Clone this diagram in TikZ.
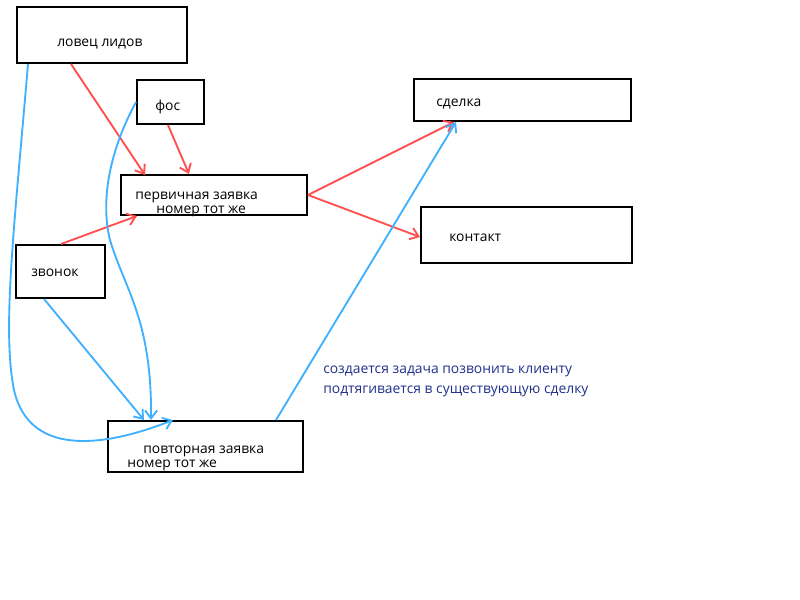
\documentclass[tikz,border=0pt]{standalone}
\usepackage{fontspec}
\setmainfont{Open Sans}
\usepackage{tikz}
\usetikzlibrary{arrows.meta,calc}
\definecolor{leadred}{RGB}{255,80,80}
\definecolor{leadblue}{RGB}{64,176,255}
\definecolor{notenavy}{RGB}{32,48,140}
\tikzset{
  stagebox/.style={draw, line width=1.5pt, inner sep=0pt},
  boxtext/.style={anchor=west, inner sep=0pt, yshift=-2.2pt, font=\fontsize{10.4}{12}\selectfont},
  notetext/.style={boxtext, text=notenavy},
  newflow/.style={-{Straight Barb[length=6pt, width=9pt]}, leadred, line width=1.4pt},
  repeatflow/.style={-{Straight Barb[length=6pt, width=9pt]}, leadblue, line width=1.4pt},
}

\begin{document}
\begin{tikzpicture}[x=0.75pt, y=-0.75pt]
    \useasboundingbox (0,0) rectangle (800,600);
    % stage boxes
    \node[stagebox, minimum width=127.5pt, minimum height=42pt] (lovec) at (102,35) {};
    \node[stagebox, minimum width=50.25pt, minimum height=33pt] (fos) at (170.5,102) {};
    \node[stagebox, minimum width=139.5pt, minimum height=30pt] (perv) at (214,195) {};
    \node[stagebox, minimum width=66.75pt, minimum height=39.75pt] (zvonok) at (60.5,271.5) {};
    \node[stagebox, minimum width=146.25pt, minimum height=38.25pt] (povt) at (205.5,446.5) {};
    \node[stagebox, minimum width=162.75pt, minimum height=31.5pt] (sdelka) at (522.5,100) {};
    \node[stagebox, minimum width=158.25pt, minimum height=42pt] (kontakt) at (526.5,235) {};
    % box texts
    \node[boxtext] (lovecT) at (57,41) {ловец лидов};
    \node[boxtext] (fosT) at (155,104) {фос};
    \node[boxtext] (pervT) at (135,194) {первичная заявка};
    \node[boxtext] (pervN) at (156,208) {номер тот же};
    \node[boxtext] (zvonokT) at (31,270) {звонок};
    \node[boxtext] (povtT) at (143,448) {повторная заявка};
    \node[boxtext] (povtN) at (127,462) {номер тот же};
    \node[boxtext] (sdelkaT) at (436,101) {сделка};
    \node[boxtext] (kontaktT) at (449,235) {контакт};
    % note
    \node[notetext] (note1) at (323,368) {создается задача позвонить клиенту};
    \node[notetext] (note2) at (323,388) {подтягивается в существующую сделку};
    % new lead (red)
    \draw[newflow] ($(lovec.south west)+(55,0)$) -- ($(perv.north west)+(25,1)$);
    \draw[newflow] ($(fos.south west)+(32,0)$) -- ($(perv.north west)+(69,0)$);
    \draw[newflow] ($(zvonok.north west)+(46,0)$) -- ($(perv.south west)+(17,0)$);
    \draw[newflow] (perv.east) -- ($(sdelka.south west)+(41,0)$);
    \draw[newflow] (perv.east) -- ($(kontakt.west)+(0,2)$);
    % repeat lead (blue)
    \draw[repeatflow] ($(lovec.south west)+(12,0)$)
      .. controls (14,230) and (2,330) .. (14,390)
      .. controls (30,460) and (110,445) .. ($(povt.north west)+(66,0)$);
    \draw[repeatflow] (fos.west)
      .. controls (110,150) and (100,200) .. (110,240)
      .. controls (125,290) and (152,320) .. ($(povt.north west)+(44,0)$);
    \draw[repeatflow] ($(zvonok.south west)+(29,0)$) -- ($(povt.north west)+(37,0)$);
    \draw[repeatflow] ($(povt.north west)+(169,0)$) -- ($(sdelka.south west)+(43,0)$);
\end{tikzpicture}
\end{document}
